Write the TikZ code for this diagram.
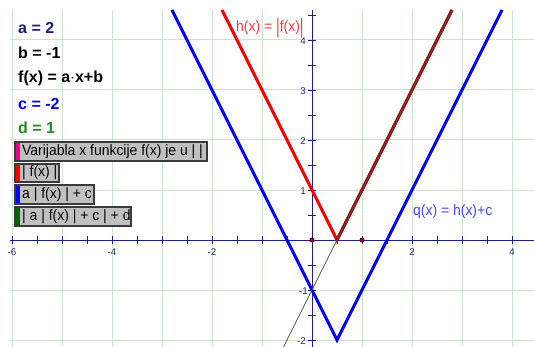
\documentclass[tikz,border=0pt]{standalone}
\usepackage{fontspec}
\setmainfont{Liberation Sans}
\usepackage{graphicx}
\definecolor{gridc}{HTML}{CDE3CD}
\definecolor{axisc}{HTML}{1E1E8C}
\definecolor{axlbl}{HTML}{2A2A78}
\definecolor{navyc}{HTML}{1A1A80}
\definecolor{bluec}{HTML}{0000FF}
\definecolor{greenc}{HTML}{1E8C1E}
\definecolor{hredc}{HTML}{FF3A3A}
\definecolor{qbluec}{HTML}{4646FF}
\definecolor{darkred}{HTML}{A00000}
\definecolor{grayf}{HTML}{555555}
\definecolor{btnfill}{HTML}{C0C0C0}
\definecolor{btnborder}{HTML}{3A3A3A}
\definecolor{stripegreen}{HTML}{006400}
\definecolor{dotred}{HTML}{C00000}
\begin{document}
\begin{tikzpicture}[x=1pt,y=-1pt,
  gridline/.style={gridc, line width=1pt},
  axisline/.style={axisc, line width=1pt},
  tickmark/.style={axisc, line width=0.9pt},
  ticklbl/.style={text=axlbl, inner sep=0pt, font=\fontsize{9.8}{11}\selectfont},
  varlbl/.style={anchor=base west, inner sep=0pt, font=\fontsize{16}{18}\selectfont\bfseries},
  btnbox/.style={draw=btnborder, fill=btnfill, line width=1.3pt},
  btntext/.style={anchor=west, inner sep=0pt, font=\fontsize{15}{17}\selectfont},
  curve/.style={line width=3pt, line join=miter},
  ptdot/.style={fill=dotred, draw=black, line width=0.4pt},
]
\useasboundingbox (0,0) rectangle (534,347);
\fill[white] (0,0) rectangle (534,347);
% grid
\foreach \gx in {12,62,...,512} \draw[gridline] (\gx,10) -- (\gx,347);
\foreach \gy in {40,90,...,340} \draw[gridline] (10,\gy) -- (534,\gy);
% axes
\draw[axisline] (10,240) -- (534,240);
\draw[axisline] (312,10) -- (312,347);
\foreach \tx in {12,37,...,512} \draw[tickmark] (\tx,236) -- (\tx,244);
\foreach \ty in {15,40,...,340} \draw[tickmark] (308,\ty) -- (316,\ty);
% axis labels
\node[ticklbl] (xm6) at (12,252) {-6};
\node[ticklbl] (xm4) at (112,252) {-4};
\node[ticklbl] (xm2) at (212,252) {-2};
\node[ticklbl] (xp2) at (412,252) {2};
\node[ticklbl] (xp4) at (512,252) {4};
\node[ticklbl, anchor=east] (yp1) at (306,191) {1};
\node[ticklbl, anchor=east] (yp2) at (306,141) {2};
\node[ticklbl, anchor=east] (yp3) at (306,91) {3};
\node[ticklbl, anchor=east] (yp4) at (306,41) {4};
\node[ticklbl, anchor=east] (ym1) at (308,291) {-1};
\node[ticklbl, anchor=east] (ym2) at (306,341) {-2};
% curves
\begin{scope}
\clip (10,10) rectangle (534,347);
\draw[curve, bluec] (172,10) -- (337,340) -- (502,10);
\draw[curve, red] (222,10) -- (337,240) -- (452,10);
\draw[curve, darkred] (337,240) -- (452,10);
\draw[grayf, line width=0.8pt] (283.5,347) -- (452,10);
\end{scope}
\draw[ptdot] (312,240) circle (2.2pt);
\draw[ptdot] (362,240) circle (2.2pt);
% function labels
\node[anchor=west, inner sep=0pt, text=hredc, font=\fontsize{15}{17}\selectfont] (hlbl) at (236,28)
  {\scalebox{0.93}[1]{h(x) = \raisebox{-0.15em}{\scalebox{1}[1.4]{|}}f(x)\raisebox{-0.15em}{\scalebox{1}[1.4]{|}}}};
\node[anchor=west, inner sep=0pt, text=qbluec, font=\fontsize{15}{17}\selectfont] (qlbl) at (413,212)
  {\scalebox{0.93}[1]{q(x) = h(x)+c}};
% variables
\node[varlbl, text=navyc] (va) at (18,34) {a = 2};
\node[varlbl, text=black] (vb) at (18,59) {b = -1};
\node[varlbl, text=black] (vf) at (18,83) {f(x) = a$\cdot$x+b};
\node[varlbl, text=bluec] (vc) at (18,110) {c = -2};
\node[varlbl, text=greenc] (vd) at (18,134) {d = 1};
% buttons
\draw[btnbox] (15,142) rectangle (207,161);
\fill[magenta] (15.7,142.7) rectangle (20,160.3);
\node[btntext] (b1) at (22,151.5) {\scalebox{0.93}[1]{Varijabla x funkcije f(x) je u | |}};
\draw[btnbox] (15,164) rectangle (59,182);
\fill[red] (15.7,164.7) rectangle (20,181.3);
\node[btntext] (b2) at (22,173) {\scalebox{0.93}[1]{| f(x) |}};
\draw[btnbox] (15,185) rectangle (94,204);
\fill[bluec] (15.7,185.7) rectangle (20,203.3);
\node[btntext] (b3) at (22,194.5) {\scalebox{0.93}[1]{a | f(x) | + c}};
\draw[btnbox] (15,207) rectangle (131,226);
\fill[stripegreen] (15.7,207.7) rectangle (20,225.3);
\node[btntext] (b4) at (22,216.5) {\scalebox{0.93}[1]{| a | f(x) | + c | + d}};
\end{tikzpicture}
\end{document}
